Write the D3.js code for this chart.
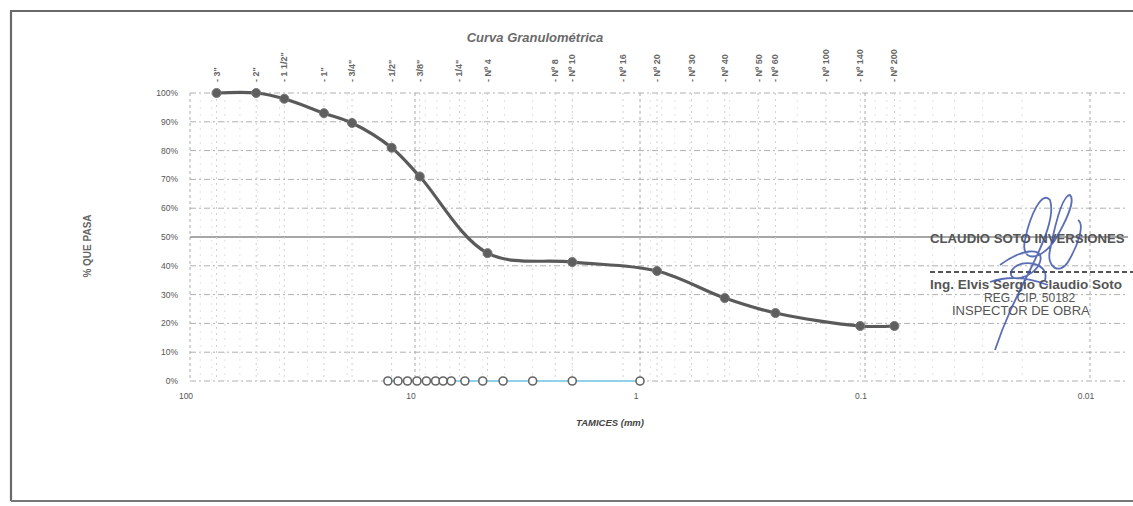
<!DOCTYPE html>
<html><head><meta charset="utf-8">
<script src="https://cdn.jsdelivr.net/npm/d3@7"></script>
<style>
html,body{margin:0;padding:0;background:#fff;}
svg{display:block;font-family:"Liberation Sans",Arial,sans-serif;}
</style></head>
<body><svg id="c" width="1133" height="506"></svg>
<script>
// ---- data ----
const sieveLabels = ['3"','2"','1 1/2"','1"','3/4"','1/2"','3/8"','1/4"','Nº 4','Nº 8','Nº 10','Nº 16','Nº 20','Nº 30','Nº 40','Nº 50','Nº 60','Nº 100','Nº 140','Nº 200'];
const sieveSizes = [76.2,50.8,38.1,25.4,19.05,12.7,9.525,6.35,4.76,2.38,2.0,1.19,0.84,0.59,0.42,0.297,0.25,0.149,0.105,0.074];
const passSizes = [76.2,50.8,38.1,25.4,19.05,12.7,9.525,4.76,2.0,0.84,0.42,0.25,0.105,0.074];
const passPercent = [100,100,98,93,89.6,81,71,44.4,41.3,38.2,28.8,23.6,19.1,19.1];
const zeroSizes = [13.2,11.9,10.8,9.8,8.9,8.1,7.5,6.9,6.0,5.0,4.06,3.0,2.0,1.0];
const zeroPercent = [0,0,0,0,0,0,0,0,0,0,0,0,0,0];
const xTickValues = [100,10,1,0.1,0.01];
const xTickLabels = ['100','10','1','0.1','0.01'];
const yTickValues = [0,10,20,30,40,50,60,70,80,90,100];

const svg = d3.select('#c');
const x = d3.scaleLog().domain([100,0.01]).range([190,1090]);
const y = d3.scaleLinear().domain([0,100]).range([381,93]);
const gridRight = 1128;

// frame
svg.append('path').attr('d','M11,501 L11,11 L1133,11').attr('fill','none').attr('stroke','#6a6a6a').attr('stroke-width',2.2);
svg.append('line').attr('x1',11).attr('x2',1133).attr('y1',501).attr('y2',501).attr('stroke','#777').attr('stroke-width',2);

// title
svg.append('text').attr('x',535).attr('y',42).attr('text-anchor','middle')
  .attr('font-size',13).attr('font-weight','bold').attr('font-style','italic').attr('fill','#6a6a6a').text('Curva Granulométrica');

// horizontal grid
const g = svg.append('g');
g.selectAll('line.h').data(yTickValues).join('line')
  .attr('x1',x(100)).attr('x2',gridRight)
  .attr('y1',d=>y(d)).attr('y2',d=>y(d))
  .attr('stroke',d=>d===50?'#8a8a8a':'#b0b0b0')
  .attr('stroke-width',d=>d===50?1.6:1)
  .attr('stroke-dasharray',d=>d===50?null:'6,3,2,3');

// vertical grid: decades + sieves
const decades=[100,10,1,0.1,0.01];
g.selectAll('line.d').data(decades).join('line')
  .attr('x1',d=>x(d)).attr('x2',d=>x(d)).attr('y1',y(100)).attr('y2',y(0))
  .attr('stroke','#aaa').attr('stroke-dasharray','3,3');
g.selectAll('line.s').data(sieveSizes).join('line')
  .attr('x1',d=>x(d)).attr('x2',d=>x(d)).attr('y1',y(100)).attr('y2',y(0))
  .attr('stroke','#d0d0d0').attr('stroke-dasharray','2,4');
const minors=[];
[10,1,0.1,0.01].forEach(b=>{[2,3,4,5,6,7,8,9].forEach(m=>{minors.push(b*m)})});
g.selectAll('line.m').data(minors.filter(v=>v<=100&&v>=0.01)).join('line')
  .attr('x1',d=>x(d)).attr('x2',d=>x(d)).attr('y1',y(100)).attr('y2',y(0))
  .attr('stroke','#e2e2e2').attr('stroke-dasharray','2,5');

// top sieve labels
svg.selectAll('text.sv').data(sieveSizes).join('text')
  .attr('transform',d=>`translate(${x(d)+3},82) rotate(-90)`)
  .attr('font-size',9).attr('font-weight','bold').attr('fill','#666')
  .text((d,i)=>'- '+sieveLabels[i]);

// y ticks
svg.selectAll('text.yt').data(yTickValues).join('text')
  .attr('x',178).attr('y',d=>y(d)+3).attr('text-anchor','end')
  .attr('font-size',8.5).attr('fill','#555').text(d=>d+'%');

// x ticks
svg.selectAll('text.xt').data(xTickValues).join('text')
  .attr('x',d=>x(d)-4).attr('y',399).attr('text-anchor','middle')
  .attr('font-size',8.5).attr('fill','#555').text((d,i)=>xTickLabels[i]);

// axis titles
svg.append('text').attr('transform','translate(91,246) rotate(-90)').attr('text-anchor','middle')
  .attr('font-size',10).attr('font-weight','bold').attr('fill','#666').text('% QUE PASA');
svg.append('text').attr('x',610).attr('y',426).attr('text-anchor','middle')
  .attr('font-size',9.5).attr('font-weight','bold').attr('font-style','italic').attr('fill','#444').text('TAMICES (mm)');

// zero series
const zero = zeroSizes.map((s,i)=>({s,v:zeroPercent[i]}));
svg.append('path').datum(zero).attr('fill','none').attr('stroke','#8fd3ea').attr('stroke-width',2.2)
  .attr('d',d3.line().x(d=>x(d.s)).y(d=>y(d.v)));
svg.selectAll('circle.z').data(zero).join('circle')
  .attr('cx',d=>x(d.s)).attr('cy',d=>y(d.v)).attr('r',4)
  .attr('fill','#fff').attr('stroke','#666').attr('stroke-width',1.6);

// main series
const main = passSizes.map((s,i)=>({s,v:passPercent[i]}));
svg.append('path').datum(main).attr('fill','none').attr('stroke','#5a5a5a').attr('stroke-width',3.2)
  .attr('d',d3.line().x(d=>x(d.s)).y(d=>y(d.v)).curve(d3.curveCatmullRom.alpha(0.5)));
svg.selectAll('circle.p').data(main).join('circle')
  .attr('cx',d=>x(d.s)).attr('cy',d=>y(d.v)).attr('r',4.5)
  .attr('fill','#5f5f5f').attr('stroke','#777').attr('stroke-width',1);

// stamp
const st = svg.append('g').attr('fill','#555').attr('font-weight','bold');
st.append('text').attr('x',930).attr('y',243).attr('font-size',13.2).text('CLAUDIO SOTO INVERSIONES');
st.append('line').attr('x1',930).attr('x2',1133).attr('y1',272).attr('y2',272)
  .attr('stroke','#555').attr('stroke-width',2).attr('stroke-dasharray','5,3');
st.append('text').attr('x',930).attr('y',289).attr('font-size',13.5).text('Ing. Elvis Sergio Claudio Soto');
st.append('text').attr('x',984).attr('y',302).attr('font-size',12).attr('font-weight','normal').text('REG. CIP. 50182');
st.append('text').attr('x',952).attr('y',315).attr('font-size',13).attr('font-weight','normal').text('INSPECTOR DE OBRA');

// signature scribble (decoration)
svg.append('path')
  .attr('d','M995,350 C1005,320 1015,300 1030,270 C1045,240 1055,215 1050,200 C1042,190 1030,215 1025,240 C1020,262 1040,262 1055,240 C1068,218 1075,200 1070,195 C1062,195 1055,225 1050,250 C1046,268 1060,275 1068,262 C1078,245 1085,225 1078,220 M1000,265 C1020,250 1045,245 1040,262 C1035,278 1005,285 1012,270 C1020,258 1050,262 1045,280 M990,282 C1010,275 1030,278 1048,285')
  .attr('fill','none').attr('stroke','#3d55a8').attr('stroke-width',1.8).attr('opacity',0.85);
</script></body></html>
